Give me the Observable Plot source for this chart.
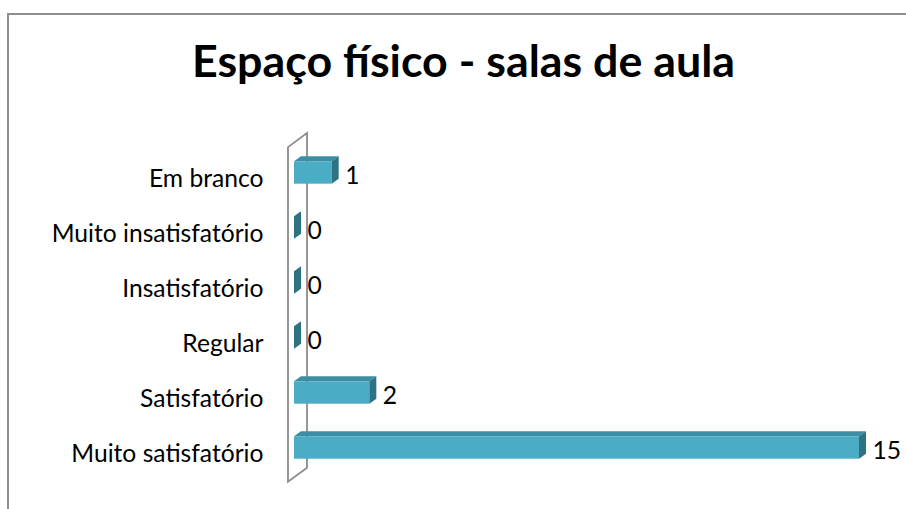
<!DOCTYPE html>
<html>
<head>
<meta charset="utf-8">
<script src="https://cdn.jsdelivr.net/npm/d3@7"></script>
<script src="https://cdn.jsdelivr.net/npm/@observablehq/plot@0.6"></script>
<style>
  html, body { margin: 0; padding: 0; background: #fff; overflow: hidden; }
  #wrap { position: relative; width: 906px; height: 509px; }
  #frame { position: absolute; left: 7px; top: 13px; width: 1000px; height: 600px;
           border: 2px solid #8e8e8e; box-sizing: border-box; }
  #chart { position: absolute; left: 0; top: 0; }
</style>
</head>
<body>
<div id="wrap"><div id="frame"></div><div id="chart"></div></div>
<script>
const title = "Espaço físico - salas de aula";
const categories = ["Em branco", "Muito insatisfatório", "Insatisfatório", "Regular", "Satisfatório", "Muito satisfatório"];
const values = [1, 0, 0, 0, 2, 15];

const data = categories.map((c, i) => ({category: c, value: values[i]}));

const ctx = document.createElement("canvas").getContext("2d");
function fit(text, weight, family, target) {
  ctx.font = `${weight} 100px ${family}`;
  return 100 * target / ctx.measureText(text).width;
}
const FAMILY = "Lato";
const labelSize = fit("Muito insatisfatório", "normal", FAMILY, 212);
const titleSize = fit(title, "bold", FAMILY, 543);

const FRONT = "#4bacc6", TOP = "#3d8ea3", SIDE = "#2f7283";
const inset = 16.3;

const chart = Plot.plot({
  width: 906,
  height: 509,
  marginLeft: 294,
  marginRight: 47,
  marginTop: 142.6,
  marginBottom: 32.2,
  style: {fontFamily: FAMILY, fontSize: labelSize + "px", color: "black", background: "transparent"},
  x: {domain: [0, 15], axis: null},
  y: {domain: categories, padding: 0, axis: null},
  marks: [
    Plot.barX(data, {y: "category", x: "value", fill: FRONT, insetTop: inset, insetBottom: inset}),
    Plot.axisY({tickSize: 0, tickPadding: 31, dy: 6.5, label: null, fontSize: labelSize, fill: "black"}),
    Plot.text(data, {y: "category", x: "value", text: d => String(d.value), textAnchor: "start",
                     dx: 13, dy: 3.5, fontSize: labelSize, fill: "black"})
  ]
});
document.getElementById("chart").appendChild(chart);

// 3D decorations computed from the plot's own scales
const xs = chart.scale("x"), ys = chart.scale("y");
const bw = ys.bandwidth;
const svg = d3.select(chart);
const x0 = xs.apply(0);
const [r0, r1] = ys.range;
const DX = 7, DY = -5;

// back wall, inserted behind everything
const wall = svg.insert("g", ":first-child");
wall.append("polygon")
  .attr("points", [[x0 - 6, r0 + 4.5], [x0 + 13, r0 - 9.5], [x0 + 13, r1 - 9], [x0 - 6, r1 + 5]].map(p => p.join(",")).join(" "))
  .attr("fill", "white").attr("stroke", "#8c8c8c").attr("stroke-width", 1.8).attr("stroke-linejoin", "miter");

// top and side faces of the bars
const faces = svg.insert("g", "g[aria-label='y-axis tick label']");
data.forEach(d => {
  const x1 = xs.apply(d.value);
  const yt = ys.apply(d.category) + inset, yb = ys.apply(d.category) + bw - inset;
  if (x1 > x0) {
    faces.append("polygon")
      .attr("points", [[x0, yt], [x1, yt], [x1 + DX, yt + DY], [x0 + DX, yt + DY]].map(p => p.join(",")).join(" "))
      .attr("fill", TOP);
  }
  faces.append("polygon")
    .attr("points", [[x1, yt], [x1 + DX, yt + DY], [x1 + DX, yb + DY], [x1, yb]].map(p => p.join(",")).join(" "))
    .attr("fill", SIDE);
});

// title
svg.append("text")
  .attr("x", 463.5).attr("y", 77)
  .attr("text-anchor", "middle")
  .attr("font-family", FAMILY).attr("font-weight", "bold")
  .attr("font-size", titleSize).attr("fill", "black")
  .text(title);
</script>
</body>
</html>
